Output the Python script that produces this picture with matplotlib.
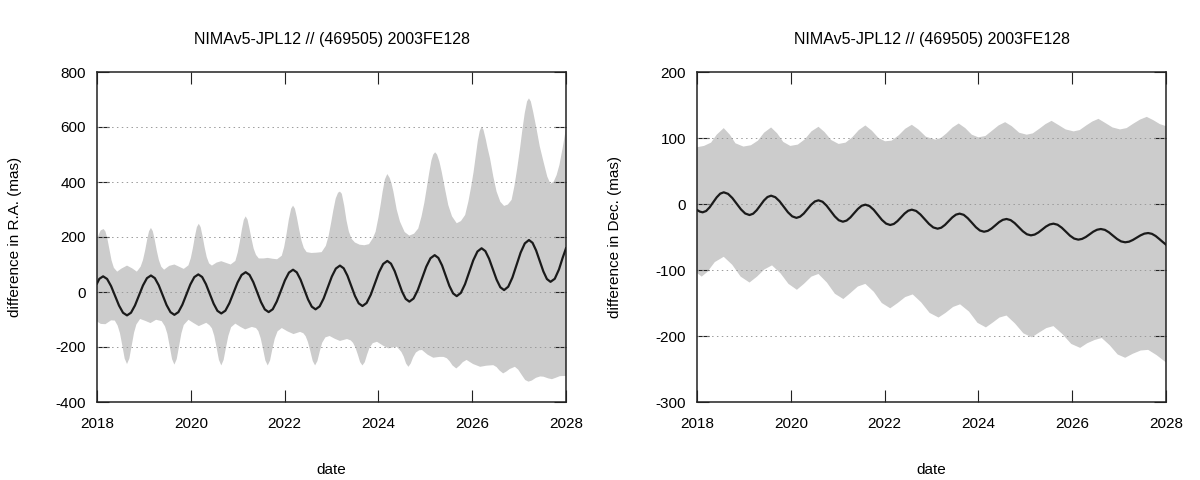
import matplotlib
matplotlib.use("Agg")
import matplotlib.pyplot as plt
import numpy as np

plt.rcParams['font.family'] = ['Liberation Sans', 'DejaVu Sans']
plt.rcParams['axes.unicode_minus'] = False

title = "NIMAv5-JPL12 // (469505) 2003FE128"

# ---- R.A. panel (mas) ----
# upper edge of the grey band
ra_hi_t = [2018.00, 2018.04, 2018.08, 2018.14, 2018.18, 2018.22, 2018.265, 2018.31, 2018.36, 2018.43,
           2018.52, 2018.64, 2018.75, 2018.85,
           2018.93, 2018.98, 2019.025, 2019.07, 2019.11, 2019.15, 2019.19, 2019.23, 2019.275, 2019.32,
           2019.37, 2019.43, 2019.54, 2019.65, 2019.75, 2019.85,
           2019.95, 2020.00, 2020.045, 2020.09, 2020.13, 2020.17, 2020.21, 2020.25, 2020.295, 2020.34,
           2020.39, 2020.45, 2020.55, 2020.65, 2020.75, 2020.85,
           2020.95, 2021.00, 2021.045, 2021.09, 2021.13, 2021.17, 2021.21, 2021.25, 2021.295, 2021.34,
           2021.39, 2021.45, 2021.55, 2021.64, 2021.74, 2021.84,
           2021.94, 2021.99, 2022.04, 2022.09, 2022.14, 2022.18, 2022.22, 2022.26, 2022.31, 2022.36,
           2022.41, 2022.47, 2022.57, 2022.68, 2022.79,
           2022.88, 2022.94, 2022.99, 2023.04, 2023.09, 2023.14, 2023.18, 2023.22, 2023.27, 2023.32,
           2023.37, 2023.43, 2023.50, 2023.60, 2023.70, 2023.80,
           2023.88, 2023.94, 2024.00, 2024.05, 2024.09, 2024.14, 2024.19, 2024.24, 2024.28, 2024.32,
           2024.39, 2024.46, 2024.56, 2024.66, 2024.76,
           2024.85, 2024.92, 2024.98, 2025.03, 2025.08, 2025.13, 2025.17, 2025.21, 2025.25, 2025.30,
           2025.35, 2025.42, 2025.49, 2025.57, 2025.67, 2025.76,
           2025.85, 2025.92, 2025.98, 2026.03, 2026.08, 2026.12, 2026.16, 2026.20, 2026.24, 2026.29,
           2026.33, 2026.38, 2026.45, 2026.52, 2026.60, 2026.68, 2026.76,
           2026.84, 2026.90, 2026.96, 2027.02, 2027.07, 2027.12, 2027.17, 2027.21, 2027.25, 2027.30,
           2027.37, 2027.44, 2027.52, 2027.60, 2027.67, 2027.74, 2027.80, 2027.86, 2027.93, 2028.00]
ra_hi = [188, 210, 224, 229, 220, 195, 155, 115, 88, 74,
         85, 96, 86, 74,
         92, 116, 150, 191, 221, 233, 221, 191, 150, 116,
         92, 81, 95, 100, 92, 84,
         97, 123, 160, 204, 236, 248, 236, 204, 162, 127,
         104, 96, 107, 112, 106, 100,
         113, 143, 182, 228, 262, 275, 263, 232, 193, 158,
         135, 122, 122, 124, 121, 119,
         132, 163, 210, 263, 303, 314, 303, 273, 228, 187,
         160, 145, 142, 143, 145,
         168, 205, 250, 298, 340, 361, 365, 357, 315, 260,
         220, 193, 180, 172, 170, 174,
         195, 219, 270, 320, 365, 410, 429, 415, 395, 365,
         300, 256, 218, 205, 212,
         231, 275, 325, 377, 430, 478, 500, 508, 500, 475,
         437, 375, 316, 275, 250, 258,
         280, 330, 385, 437, 500, 550, 585, 601, 590, 555,
         522, 486, 420, 365, 328, 313, 318,
         335, 385, 450, 522, 590, 650, 693, 704, 693, 655,
         595, 530, 474, 420, 393, 402, 425, 462, 525, 595]

# lower edge of the grey band
ra_lo_t = [2018.00, 2018.08, 2018.18, 2018.30, 2018.38, 2018.44, 2018.49, 2018.54, 2018.59, 2018.64,
           2018.69, 2018.74, 2018.79, 2018.84, 2018.92, 2019.03, 2019.14, 2019.26, 2019.38, 2019.45,
           2019.50, 2019.55, 2019.60, 2019.65, 2019.70, 2019.75, 2019.80, 2019.85, 2019.95, 2020.06,
           2020.17, 2020.33, 2020.40, 2020.45, 2020.50, 2020.55, 2020.60, 2020.65, 2020.70, 2020.75,
           2020.80, 2020.86, 2020.95, 2021.06, 2021.16, 2021.30, 2021.39, 2021.44, 2021.49, 2021.54,
           2021.59, 2021.64, 2021.69, 2021.74, 2021.79, 2021.85, 2021.94, 2022.06, 2022.19, 2022.33,
           2022.40, 2022.45, 2022.50, 2022.55, 2022.60, 2022.65, 2022.70, 2022.75, 2022.80, 2022.87,
           2022.96, 2023.07, 2023.18, 2023.33, 2023.41, 2023.46, 2023.51, 2023.56, 2023.61, 2023.66,
           2023.71, 2023.76, 2023.81, 2023.88, 2023.97, 2024.10, 2024.21, 2024.39, 2024.44, 2024.49,
           2024.54, 2024.59, 2024.64, 2024.69, 2024.74, 2024.80, 2024.87, 2024.93, 2025.05, 2025.17,
           2025.30, 2025.39, 2025.46, 2025.52, 2025.58, 2025.66, 2025.73, 2025.80, 2025.88, 2026.02,
           2026.17, 2026.30, 2026.45, 2026.52, 2026.58, 2026.66, 2026.73, 2026.80, 2026.91, 2026.98,
           2027.05, 2027.13, 2027.20, 2027.27, 2027.36, 2027.45, 2027.52, 2027.62, 2027.70, 2027.78,
           2027.87, 2028.00]
ra_lo = [-107, -116, -117, -103, -104, -122, -150, -195, -242, -262,
         -242, -195, -148, -118, -98, -105, -113, -101, -106, -125,
         -152, -197, -244, -264, -244, -197, -150, -120, -101, -113,
         -124, -112, -121, -132, -159, -202, -247, -267, -247, -202,
         -160, -128, -115, -127, -136, -127, -131, -142, -168, -207,
         -249, -267, -249, -207, -170, -143, -131, -143, -153, -145,
         -150, -161, -183, -216, -251, -267, -251, -216, -185, -165,
         -160, -170, -178, -171, -176, -185, -202, -227, -255, -267,
         -255, -227, -203, -186, -181, -195, -205, -199, -208, -218,
         -235, -260, -272, -260, -238, -220, -212, -211, -228, -239,
         -236, -236, -241, -252, -267, -278, -268, -255, -247, -262,
         -272, -268, -266, -273, -285, -296, -289, -280, -272, -282,
         -300, -320, -326, -322, -312, -307, -308, -314, -317, -312,
         -306, -305]

# black curve
ra_t = [2018.00, 2018.05, 2018.13, 2018.215, 2018.30, 2018.385, 2018.47, 2018.555, 2018.64, 2018.725,
        2018.81, 2018.895, 2018.98, 2019.065, 2019.15, 2019.233, 2019.317, 2019.40, 2019.483, 2019.567,
        2019.65, 2019.735, 2019.82, 2019.905, 2019.99, 2020.075, 2020.16, 2020.242, 2020.323, 2020.405,
        2020.487, 2020.568, 2020.65, 2020.737, 2020.823, 2020.91, 2020.997, 2021.083, 2021.17, 2021.252,
        2021.333, 2021.415, 2021.497, 2021.578, 2021.66, 2021.747, 2021.833, 2021.92, 2022.007, 2022.093,
        2022.18, 2022.26, 2022.34, 2022.42, 2022.50, 2022.58, 2022.66, 2022.747, 2022.833, 2022.92,
        2023.007, 2023.093, 2023.18, 2023.26, 2023.34, 2023.42, 2023.50, 2023.58, 2023.66, 2023.748,
        2023.837, 2023.925, 2024.013, 2024.102, 2024.19, 2024.268, 2024.347, 2024.425, 2024.503, 2024.582,
        2024.66, 2024.75, 2024.84, 2024.93, 2025.02, 2025.11, 2025.20, 2025.278, 2025.357, 2025.435,
        2025.513, 2025.592, 2025.67, 2025.758, 2025.847, 2025.935, 2026.023, 2026.112, 2026.20, 2026.28,
        2026.36, 2026.44, 2026.52, 2026.60, 2026.68, 2026.768, 2026.857, 2026.945, 2027.033, 2027.122,
        2027.21, 2027.287, 2027.363, 2027.44, 2027.517, 2027.593, 2027.67, 2027.76, 2027.85, 2027.93,
        2028.00]
ra_diff = [31, 48, 57, 47.5, 21.5, -14, -49.5, -75.5, -85, -75.3,
           -48.8, -12.5, 23.8, 50.3, 60, 50.4, 24.3, -11.5, -47.3, -73.4,
           -83, -73.2, -46.3, -9.5, 27.3, 54.2, 64, 54.5, 28.5, -7,
           -42.5, -68.5, -78, -68, -40.5, -3, 34.5, 62, 72, 62.3,
           35.8, -0.5, -36.8, -63.3, -73, -62.7, -34.5, 4, 42.5, 70.7,
           81, 71.4, 45, 9, -27, -53.4, -63, -52.3, -23.3, 16.5,
           56.3, 85.3, 96, 86.2, 59.3, 22.5, -14.3, -41.2, -51, -40,
           -10, 31, 72, 102, 113, 103.1, 76, 39, 2, -25.1,
           -35, -23.7, 7.3, 49.5, 91.8, 122.7, 134, 124, 96.8, 59.5,
           22.3, -5, -15, -3.3, 28.5, 72, 115.5, 147.3, 159, 148.8,
           121, 83, 45, 17.2, 7, 19.2, 52.5, 98, 143.5, 176.8,
           189, 178.8, 151, 113, 75, 47.2, 37, 48, 82, 125,
           159]

# ---- Dec. panel (mas) ----
dec_hi_t = [2018.00, 2018.15, 2018.30, 2018.42, 2018.57, 2018.70, 2018.82, 2018.99, 2019.15, 2019.30,
            2019.43, 2019.58, 2019.71, 2019.84, 2019.99, 2020.15, 2020.30, 2020.44, 2020.59, 2020.72,
            2020.86, 2021.02, 2021.17, 2021.31, 2021.45, 2021.59, 2021.73, 2021.87, 2022.01, 2022.15,
            2022.30, 2022.44, 2022.58, 2022.72, 2022.88, 2023.08, 2023.20, 2023.32, 2023.45, 2023.58,
            2023.72, 2023.86, 2024.00, 2024.15, 2024.29, 2024.43, 2024.57, 2024.71, 2024.87, 2025.03,
            2025.16, 2025.30, 2025.43, 2025.56, 2025.70, 2025.86, 2026.03, 2026.16, 2026.30, 2026.43,
            2026.56, 2026.70, 2026.86, 2027.02, 2027.16, 2027.31, 2027.45, 2027.59, 2027.73, 2027.87,
            2028.00]
dec_hi = [86, 88, 93, 105, 115, 105, 92, 87, 89, 96,
          108, 116, 107, 94, 88, 90, 98, 110, 117, 109,
          97, 91, 93, 101, 112, 119, 111, 100, 95, 96,
          104, 114, 120, 113, 102, 97.5, 100, 107, 116, 122,
          115, 105, 101, 103, 111, 119, 124, 118, 108, 105,
          107, 114, 121, 126, 120, 113, 110, 112, 119, 125,
          129, 123, 116, 113, 115, 122, 128, 132, 127, 121,
          118]

dec_lo_t = [2018.00, 2018.10, 2018.22, 2018.38, 2018.57, 2018.75, 2018.93, 2019.12, 2019.28, 2019.44,
            2019.60, 2019.78, 2019.95, 2020.13, 2020.28, 2020.44, 2020.59, 2020.77, 2020.94, 2021.12,
            2021.27, 2021.43, 2021.59, 2021.77, 2021.94, 2022.12, 2022.28, 2022.44, 2022.60, 2022.78,
            2022.96, 2023.15, 2023.30, 2023.46, 2023.61, 2023.80, 2023.98, 2024.16, 2024.30, 2024.45,
            2024.60, 2024.78, 2024.96, 2025.14, 2025.29, 2025.45, 2025.60, 2025.79, 2025.98, 2026.17,
            2026.32, 2026.48, 2026.63, 2026.80, 2026.97, 2027.13, 2027.29, 2027.46, 2027.62, 2027.80,
            2028.00]
dec_lo = [-104.5, -110, -103, -88, -80, -92, -110, -119, -110, -99,
          -93, -105, -121, -130, -121, -110, -106, -119, -136, -144,
          -135, -125, -121, -133, -150, -158, -150, -141, -137, -149,
          -165, -172, -165, -156, -152, -163, -180, -187, -180, -172,
          -169, -181, -196, -202, -195, -188, -185, -197, -212, -218,
          -211, -206, -203, -214, -228, -233, -227, -222, -221, -229,
          -240]

dec_t = [2018.00, 2018.06, 2018.12, 2018.195, 2018.27, 2018.345, 2018.42, 2018.495, 2018.57, 2018.662,
         2018.753, 2018.845, 2018.937, 2019.028, 2019.12, 2019.197, 2019.273, 2019.35, 2019.427, 2019.503,
         2019.58, 2019.67, 2019.76, 2019.85, 2019.94, 2020.03, 2020.12, 2020.198, 2020.277, 2020.355,
         2020.433, 2020.512, 2020.59, 2020.677, 2020.763, 2020.85, 2020.937, 2021.023, 2021.11, 2021.19,
         2021.27, 2021.35, 2021.43, 2021.51, 2021.59, 2021.678, 2021.767, 2021.855, 2021.943, 2022.032,
         2022.12, 2022.197, 2022.273, 2022.35, 2022.427, 2022.503, 2022.58, 2022.672, 2022.763, 2022.855,
         2022.947, 2023.038, 2023.13, 2023.208, 2023.287, 2023.365, 2023.443, 2023.522, 2023.60, 2023.687,
         2023.773, 2023.86, 2023.947, 2024.033, 2024.12, 2024.20, 2024.28, 2024.36, 2024.44, 2024.52,
         2024.60, 2024.687, 2024.773, 2024.86, 2024.947, 2025.033, 2025.12, 2025.20, 2025.28, 2025.36,
         2025.44, 2025.52, 2025.60, 2025.688, 2025.777, 2025.865, 2025.953, 2026.042, 2026.13, 2026.21,
         2026.29, 2026.37, 2026.45, 2026.53, 2026.61, 2026.697, 2026.783, 2026.87, 2026.957, 2027.043,
         2027.13, 2027.212, 2027.293, 2027.375, 2027.457, 2027.538, 2027.62, 2027.70, 2027.78, 2027.86,
         2027.93, 2028.00]
dec_diff = [-9, -11.5, -12.6, -10.6, -5, 2.6, 10.1, 15.7, 17.7, 15.4,
            9.1, 0.5, -8.1, -14.4, -16.7, -14.7, -9.4, -2.1, 5.3, 10.6,
            12.6, 10.3, 4.2, -4.2, -12.6, -18.7, -21, -19.2, -14.4, -7.7,
            -1.1, 3.8, 5.6, 3.4, -2.5, -10.6, -18.7, -24.6, -26.8, -25.1,
            -20.4, -13.9, -7.5, -2.7, -1, -3.1, -8.7, -16.4, -24.1, -29.7,
            -31.8, -30.2, -26, -20.2, -14.4, -10.2, -8.6, -10.5, -15.8, -23,
            -30.2, -35.5, -37.4, -35.9, -31.7, -26, -20.3, -16.1, -14.6, -16.4,
            -21.5, -28.3, -35.2, -40.2, -42, -40.7, -37.2, -32.4, -27.5, -24,
            -22.7, -24.4, -28.9, -35.1, -41.3, -45.8, -47.5, -46.3, -43.1, -38.7,
            -34.2, -31, -29.8, -31.4, -35.9, -41.9, -48, -52.4, -54, -52.9,
            -50, -46, -41.9, -39, -37.9, -39.2, -42.9, -48, -53, -56.7,
            -58, -57.1, -54.5, -51, -47.5, -44.9, -44, -45.2, -48.5, -53.2,
            -57.5, -61.6]

panels = [
    (ra_hi_t, ra_hi, ra_lo_t, ra_lo, ra_t, ra_diff, (-400, 800), np.arange(-400, 801, 200),
     "difference in R.A. (mas)"),
    (dec_hi_t, dec_hi, dec_lo_t, dec_lo, dec_t, dec_diff, (-300, 200), np.arange(-300, 201, 100),
     "difference in Dec. (mas)"),
]

fig = plt.figure(figsize=(12, 4.8), dpi=100)
lefts = [97 / 1200, 697 / 1200]

for left, (ht, hv, lt, lv, ct, cv, ylim, yticks, ylabel) in zip(lefts, panels):
    ax = fig.add_axes([left, 78 / 480, 469 / 1200, 330 / 480])
    # band = upper edge forward, lower edge backward
    xs = np.concatenate([ht, lt[::-1]])
    ys = np.concatenate([hv, lv[::-1]])
    ax.fill(xs, ys, color="#cccccc", lw=0, zorder=1)
    for yv in yticks[1:-1]:
        ax.axhline(yv, color="#9a9a9a", lw=0.7, ls=(0, (1.5, 3.5)), zorder=2)
    ax.plot(ct, cv, color="#1a1a1a", lw=1.6, zorder=3)

    ax.set_xlim(2018, 2028)
    ax.set_ylim(*ylim)
    ax.set_xticks(np.arange(2018, 2029, 2))
    ax.set_yticks(yticks)
    ax.tick_params(direction="in", length=8.5, width=0.8, top=True, right=True,
                   labelsize=11, color="#222222")
    ax.tick_params(axis="x", pad=11)
    ax.tick_params(axis="y", pad=8)
    for s in ax.spines.values():
        s.set_linewidth(1.1)
        s.set_color("#222222")

    ax.set_title(title, fontsize=11.5, pad=20)
    ax.set_xlabel("date", fontsize=11)
    ax.xaxis.set_label_coords(0.5, -0.185)
    ax.set_ylabel(ylabel, fontsize=11)
    ax.yaxis.set_label_coords(-0.16, 0.5)

fig.savefig("out.png", dpi=100)
